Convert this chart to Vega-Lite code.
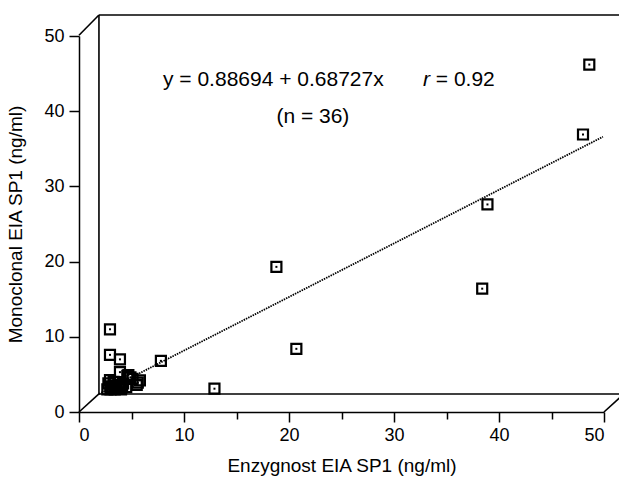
{
  "$schema": "https://vega.github.io/schema/vega-lite/v6.json",
  "width": 525,
  "height": 376,
  "autosize": {"type": "none"},
  "padding": {"left": 79, "top": 36, "right": 15, "bottom": 70},
  "background": "white",
  "view": {"stroke": null},
  "config": {
    "font": "Liberation Sans",
    "axis": {
      "domainColor": "black",
      "domainWidth": 1.5,
      "tickColor": "black",
      "tickWidth": 1.5,
      "labelColor": "black",
      "titleColor": "black",
      "labelFont": "Liberation Sans",
      "titleFont": "Liberation Sans",
      "labelFontSize": 18,
      "titleFontSize": 19,
      "titleFontWeight": "normal",
      "grid": false
    }
  },
  "datasets": {
    "points": [
      {"enzygnost": 48.6, "monoclonal": 46.2},
      {"enzygnost": 48.0, "monoclonal": 36.9},
      {"enzygnost": 38.9, "monoclonal": 27.6},
      {"enzygnost": 38.4, "monoclonal": 16.4},
      {"enzygnost": 18.8, "monoclonal": 19.3},
      {"enzygnost": 20.7, "monoclonal": 8.4},
      {"enzygnost": 12.9, "monoclonal": 3.1},
      {"enzygnost": 7.8, "monoclonal": 6.8},
      {"enzygnost": 2.95, "monoclonal": 11.0},
      {"enzygnost": 2.95, "monoclonal": 7.6},
      {"enzygnost": 3.9, "monoclonal": 7.0},
      {"enzygnost": 3.9, "monoclonal": 5.3},
      {"enzygnost": 4.7, "monoclonal": 4.9},
      {"enzygnost": 2.95, "monoclonal": 4.25},
      {"enzygnost": 5.8, "monoclonal": 4.2},
      {"enzygnost": 5.5, "monoclonal": 3.6},
      {"enzygnost": 4.5, "monoclonal": 3.3},
      {"enzygnost": 3.0, "monoclonal": 3.4},
      {"enzygnost": 3.4, "monoclonal": 3.0},
      {"enzygnost": 3.9, "monoclonal": 3.1},
      {"enzygnost": 2.7, "monoclonal": 3.0},
      {"enzygnost": 3.2, "monoclonal": 3.1},
      {"enzygnost": 4.2, "monoclonal": 3.8},
      {"enzygnost": 4.9, "monoclonal": 4.6},
      {"enzygnost": 5.1, "monoclonal": 4.4},
      {"enzygnost": 2.8, "monoclonal": 3.8},
      {"enzygnost": 3.6, "monoclonal": 3.5},
      {"enzygnost": 4.0, "monoclonal": 3.0},
      {"enzygnost": 3.3, "monoclonal": 4.0},
      {"enzygnost": 3.0, "monoclonal": 3.0},
      {"enzygnost": 3.1, "monoclonal": 3.2},
      {"enzygnost": 4.1, "monoclonal": 3.3},
      {"enzygnost": 3.5, "monoclonal": 3.2},
      {"enzygnost": 5.6, "monoclonal": 3.9},
      {"enzygnost": 4.6, "monoclonal": 4.8},
      {"enzygnost": 3.8, "monoclonal": 3.6}
    ],
    "frame": [
      {"x": 0, "y": 50.1, "x2": 1.9, "y2": 52.8},
      {"x": 1.9, "y": 2.4, "x2": 1.9, "y2": 52.8},
      {"x": 1.9, "y": 52.8, "x2": 52, "y2": 52.8},
      {"x": 1.9, "y": 2.4, "x2": 52, "y2": 2.4},
      {"x": 50, "y": 0, "x2": 51.9, "y2": 2.4},
      {"x": 0, "y": 0, "x2": 1.9, "y2": 2.4}
    ],
    "fit": [
      {"enzygnost": 1.9, "monoclonal": 2.4},
      {"enzygnost": 49.9, "monoclonal": 36.6}
    ]
  },
  "layer": [
    {
      "data": {"name": "frame"},
      "mark": {"type": "rule", "color": "black", "strokeWidth": 1.6},
      "encoding": {
        "x": {"field": "x", "type": "quantitative", "scale": {"domain": [0, 50], "nice": false, "zero": false},
          "axis": {"values": [0, 5, 10, 15, 20, 25, 30, 35, 40, 45, 50],
            "labelExpr": "datum.value % 10 === 0 ? datum.label : ''",
            "tickSize": {"condition": {"test": "datum.value % 10 === 0", "value": 10}, "value": 7},
            "labelPadding": 4,
            "title": "Enzygnost EIA SP1 (ng/ml)", "titlePadding": 12}},
        "y": {"field": "y", "type": "quantitative", "scale": {"domain": [0, 50], "nice": false, "zero": false},
          "axis": {"values": [0, 5, 10, 15, 20, 25, 30, 35, 40, 45, 50],
            "labelExpr": "datum.value % 10 === 0 ? datum.label : ''",
            "tickSize": {"condition": {"test": "datum.value % 10 === 0", "value": 10}, "value": 7},
            "labelPadding": 5,
            "title": "Monoclonal EIA SP1 (ng/ml)", "titlePadding": 18}},
        "x2": {"field": "x2"},
        "y2": {"field": "y2"}
      }
    },
    {
      "data": {"name": "fit"},
      "mark": {"type": "line", "color": "black", "strokeWidth": 1.8, "strokeDash": [1.5, 1]},
      "encoding": {
        "x": {"field": "enzygnost", "type": "quantitative"},
        "y": {"field": "monoclonal", "type": "quantitative"}
      }
    },
    {
      "data": {"name": "points"},
      "mark": {"type": "point", "shape": "square", "filled": false, "color": "black", "strokeWidth": 2.2, "size": 100, "opacity": 1},
      "encoding": {
        "x": {"field": "enzygnost", "type": "quantitative"},
        "y": {"field": "monoclonal", "type": "quantitative"}
      }
    },
    {
      "data": {"name": "points"},
      "mark": {"type": "point", "shape": "square", "filled": true, "color": "black", "size": 4, "opacity": 1},
      "encoding": {
        "x": {"field": "enzygnost", "type": "quantitative"},
        "y": {"field": "monoclonal", "type": "quantitative"}
      }
    },
    {
      "data": {"values": [
        {"label": "y = 0.88694 + 0.68727x", "x": 8.0, "y": 43.3},
        {"label": "= 0.92", "x": 33.98, "y": 43.3},
        {"label": "(n = 36)", "x": 18.8, "y": 38.4}
      ]},
      "mark": {"type": "text", "align": "left", "baseline": "alphabetic", "fontSize": 21, "color": "black", "font": "Liberation Sans"},
      "encoding": {
        "x": {"field": "x", "type": "quantitative"},
        "y": {"field": "y", "type": "quantitative"},
        "text": {"field": "label"}
      }
    },
    {
      "data": {"values": [
        {"label": "r", "x": 32.76, "y": 43.3}
      ]},
      "mark": {"type": "text", "align": "left", "baseline": "alphabetic", "fontSize": 21, "fontStyle": "italic", "color": "black", "font": "Liberation Sans"},
      "encoding": {
        "x": {"field": "x", "type": "quantitative"},
        "y": {"field": "y", "type": "quantitative"},
        "text": {"field": "label"}
      }
    }
  ]
}
